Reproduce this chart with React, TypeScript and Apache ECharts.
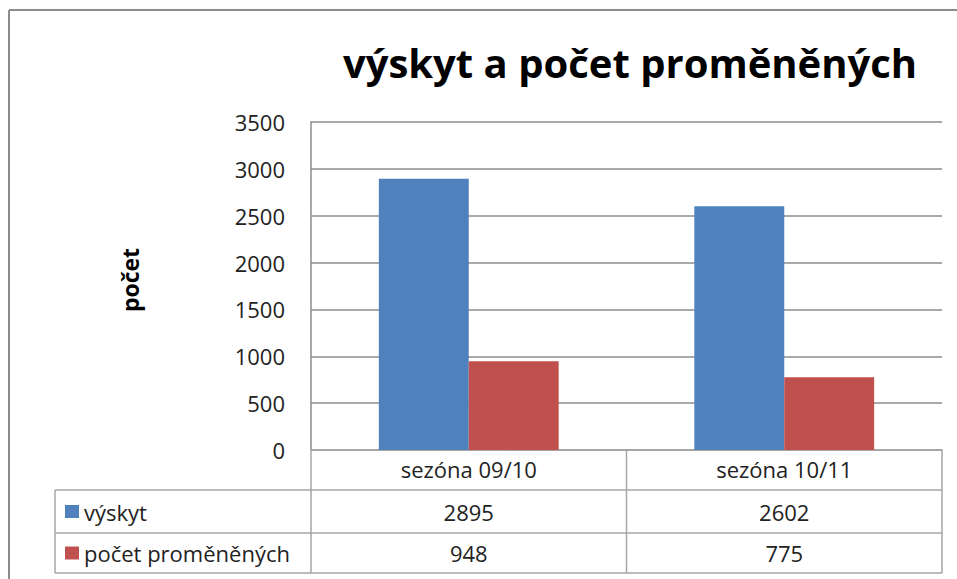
import React, { useEffect, useRef } from "react";
import * as echarts from "echarts";

const categories = ["sezóna 09/10", "sezóna 10/11"];
const seriesNames = ["výskyt", "počet proměněných"];
const vyskyt = [2895, 2602];
const pocetPromenenych = [948, 775];
const seriesColors = ["#4F81BD", "#C0504D"];
const titleText = "výskyt a počet proměněných";
const yAxisName = "počet";

const FONT = "'Open Sans', 'Noto Sans', sans-serif";

export default function App() {
  const ref = useRef<HTMLDivElement>(null);
  useEffect(() => {
    if (!ref.current) return;
    const chart = echarts.init(ref.current, undefined, { renderer: "svg" });
    const W = 957;
    const gridL = 311, gridR = 942, gridT = 122, gridB = 450;
    const rows = [450, 490, 533, 573];
    const tableL = 55;
    const colMid = (gridL + gridR) / 2;
    const lineColor = "#a6a6a6";
    const seriesData = [vyskyt, pocetPromenenych];

    const graphics: any[] = [];
    graphics.push({ type: "line", shape: { x1: 9, y1: 10, x2: W, y2: 10 }, style: { stroke: "#8c8c8c", lineWidth: 2 }, silent: true });
    graphics.push({ type: "line", shape: { x1: 9, y1: 10, x2: 9, y2: 579 }, style: { stroke: "#8c8c8c", lineWidth: 2 }, silent: true });
    graphics.push({
      type: "text",
      x: 630,
      y: 62,
      style: { text: titleText, font: `bold 40px ${FONT}`, fill: "#000", textAlign: "center", textVerticalAlign: "middle" },
    });
    for (let i = 1; i < rows.length; i++) {
      graphics.push({ type: "line", shape: { x1: tableL, y1: rows[i], x2: gridR, y2: rows[i] }, style: { stroke: lineColor, lineWidth: 1.5 }, silent: true });
    }
    graphics.push({ type: "line", shape: { x1: tableL, y1: rows[1], x2: tableL, y2: rows[3] }, style: { stroke: lineColor, lineWidth: 1.5 }, silent: true });
    graphics.push({ type: "line", shape: { x1: gridL, y1: gridB, x2: gridL, y2: rows[3] }, style: { stroke: lineColor, lineWidth: 1.5 }, silent: true });
    graphics.push({ type: "line", shape: { x1: colMid, y1: gridB, x2: colMid, y2: rows[3] }, style: { stroke: lineColor, lineWidth: 1.5 }, silent: true });
    graphics.push({ type: "line", shape: { x1: gridR, y1: gridB, x2: gridR, y2: rows[3] }, style: { stroke: lineColor, lineWidth: 1.5 }, silent: true });
    const catW = (gridR - gridL) / categories.length;
    seriesNames.forEach((name, si) => {
      const yc = (rows[si + 1] + rows[si + 2]) / 2;
      graphics.push({ type: "rect", shape: { x: 65, y: yc - 6.5, width: 14, height: 13 }, style: { fill: seriesColors[si] } });
      graphics.push({
        type: "text",
        x: 84,
        y: yc,
        style: { text: name, font: `22px ${FONT}`, fill: "#222", textAlign: "left", textVerticalAlign: "middle" },
      });
      seriesData[si].forEach((v, ci) => {
        graphics.push({
          type: "text",
          x: gridL + catW * (ci + 0.5),
          y: yc,
          style: { text: String(v), font: `22px ${FONT}`, fill: "#222", textAlign: "center", textVerticalAlign: "middle" },
        });
      });
    });

    chart.setOption({
      animation: false,
      backgroundColor: "#fff",
      grid: { left: gridL, right: W - gridR, top: gridT, bottom: 579 - gridB, containLabel: false },
      xAxis: {
        type: "category",
        data: categories,
        axisLine: { show: true, lineStyle: { color: lineColor, width: 1.5 } },
        axisTick: { show: false },
        axisLabel: { color: "#222", fontSize: 22, fontFamily: FONT, margin: 8 },
      },
      yAxis: {
        type: "value",
        min: 0,
        max: 3500,
        interval: 500,
        name: yAxisName,
        nameLocation: "middle",
        nameRotate: 90,
        nameGap: 170,
        nameTextStyle: { fontSize: 23, fontWeight: "bold", color: "#000", fontFamily: FONT, padding: [0, 0, 0, 12] },
        axisLine: { show: true, lineStyle: { color: "#8c8c8c", width: 1.5 } },
        axisTick: { show: false },
        axisLabel: { color: "#222", fontSize: 22, fontFamily: FONT, margin: 26, formatter: (v: number) => String(v) },
        splitLine: { lineStyle: { color: "#8c8c8c", width: 1.5 } },
      },
      series: seriesNames.map((name, si) => ({
        type: "bar",
        name,
        data: seriesData[si],
        barGap: "0%",
        barCategoryGap: "43%",
        itemStyle: { color: seriesColors[si] },
      })),
      graphic: graphics,
    });
    return () => chart.dispose();
  }, []);
  return <div ref={ref} style={{ width: 957, height: 579, position: "absolute", left: 0, top: 0 }} />;
}
